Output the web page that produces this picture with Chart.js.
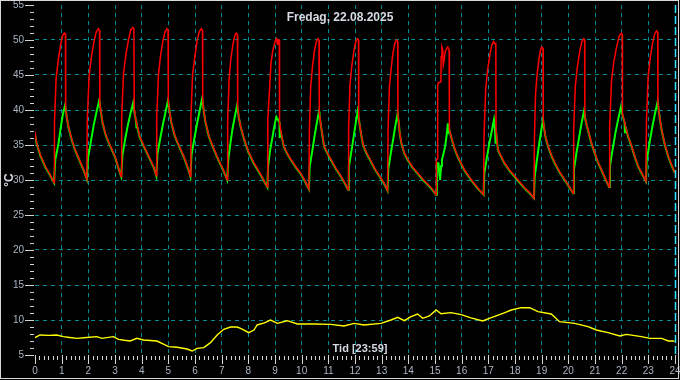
<!DOCTYPE html>
<html><head><meta charset="utf-8">
<script src="https://cdn.jsdelivr.net/npm/chart.js@4.4.1/dist/chart.umd.min.js"></script>
<style>html,body{margin:0;padding:0;background:#000;overflow:hidden}#wrap{width:680px;height:380px;position:relative}</style>
</head><body><div id="wrap"><canvas id="c"></canvas></div>
<script>
const chartTitle = 'Fredag, 22.08.2025';
const xTitle = 'Tid [23:59]';
const yTitle = '°C';
const hourTicks = [0,1,2,3,4,5,6,7,8,9,10,11,12,13,14,15,16,17,18,19,20,21,22,23,24];
const tempTicks = [5,10,15,20,25,30,35,40,45,50,55];

const greenSeries = [
[0,36.5],[0.06,35.2],[0.19,33.6],[0.38,31.9],[0.56,30.7],[0.714,29.6],
[0.76,32.9],[0.88,35.2],[0.97,37.6],[1.04,39.3],[1.13,40.7],[1.19,39.0],[1.25,37.6],[1.38,35.7],[1.50,34.3],[1.69,32.6],[1.82,31.4],[1.944,30.1],
[1.99,33.2],[2.10,35.6],[2.20,37.8],[2.30,39.6],[2.41,41.4],[2.47,39.7],[2.53,38.2],[2.66,36.3],[2.81,34.9],[3.01,33.2],[3.15,31.4],[3.233,30.5],
[3.28,33.6],[3.38,35.8],[3.48,37.8],[3.58,39.5],[3.68,41.0],[3.74,39.4],[3.79,38.4],[3.80,37.4],[3.81,38.0],[3.93,36.1],[4.08,34.8],[4.28,33.2],[4.45,31.8],[4.549,30.6],
[4.59,33.7],[4.70,36.0],[4.80,38.0],[4.90,39.8],[4.99,41.4],[5.05,39.7],[5.11,38.2],[5.24,36.3],[5.39,34.9],[5.59,33.2],[5.74,31.6],[5.827,30.5],
[5.87,33.6],[5.98,36.0],[6.08,38.1],[6.18,40.0],[6.27,41.7],[6.33,39.8],[6.39,38.3],[6.52,36.2],[6.67,34.7],[6.87,32.9],[7.07,31.3],[7.207,30.0],
[7.25,33.0],[7.33,35.3],[7.41,37.4],[7.50,39.2],[7.58,40.7],[7.64,39.0],[7.71,37.6],[7.84,35.8],[8.0,34.0],[8.2,32.4],[8.45,30.8],[8.711,29.0],
[8.74,32.0],[8.82,34.3],[8.90,36.0],[8.98,37.8],[9.05,39.0],[9.11,38.6],[9.17,38.2],[9.175,36.0],[9.19,37.2],[9.25,36.2],[9.33,34.8],[9.45,33.8],[9.59,32.9],[9.78,31.8],[9.96,30.9],[10.15,29.6],[10.27,28.7],
[10.30,31.9],[10.40,34.2],[10.48,36.2],[10.57,38.2],[10.65,39.8],[10.67,39.2],[10.71,38.1],[10.77,36.5],[10.84,34.8],[10.96,33.8],[11.09,32.9],[11.28,31.6],[11.47,30.5],[11.62,29.5],[11.74,28.6],
[11.77,31.9],[11.87,34.2],[11.95,36.2],[12.03,38.2],[12.10,39.8],[12.13,39.0],[12.17,38.0],[12.23,36.5],[12.30,35.0],[12.42,33.9],[12.56,32.9],[12.75,31.5],[12.94,30.4],[13.10,29.4],[13.22,28.5],
[13.25,31.6],[13.35,34.0],[13.44,36.0],[13.52,37.9],[13.60,39.5],[13.64,38.2],[13.68,36.6],[13.74,35.2],[13.85,33.8],[13.97,32.9],[14.15,31.8],[14.35,30.9],[14.55,30.0],[14.73,29.3],[14.90,28.6],[15.04,27.9],
[15.07,32.4],[15.13,32.4],[15.16,31.0],[15.19,30.0],[15.23,32.0],[15.26,32.9],[15.32,33.8],[15.38,34.8],[15.44,36.5],[15.48,38.1],[15.51,36.9],[15.54,37.1],[15.60,36.2],[15.72,34.6],[15.85,33.3],[16.1,31.4],[16.35,30.0],[16.6,28.8],[16.82,27.9],
[16.85,31.0],[16.95,33.3],[17.04,35.3],[17.13,37.0],[17.21,38.6],[17.25,37.2],[17.27,35.2],[17.29,36.8],[17.36,34.3],[17.48,33.3],[17.6,32.4],[17.8,31.3],[17.98,30.5],[18.2,29.5],[18.36,28.8],[18.55,28.1],[18.71,27.4],
[18.74,30.5],[18.82,32.8],[18.90,35.0],[18.98,37.0],[19.05,38.6],[19.09,37.4],[19.14,36.2],[19.24,34.8],[19.36,33.5],[19.49,32.4],[19.67,31.1],[19.86,30.0],[20.03,29.0],[20.18,28.1],
[20.21,31.5],[20.31,34.0],[20.41,36.2],[20.50,38.2],[20.59,39.9],[20.64,38.6],[20.69,37.8],[20.74,37.1],[20.86,35.3],[20.99,33.8],[21.11,32.5],[21.24,31.4],[21.38,30.2],[21.53,29.0],
[21.56,32.0],[21.67,34.6],[21.77,36.8],[21.87,38.7],[21.97,40.4],[22.03,39.3],[22.08,38.6],[22.11,38.2],[22.12,36.7],[22.14,37.6],[22.24,36.2],[22.37,34.8],[22.5,33.2],[22.62,31.9],[22.77,30.8],[22.91,29.8],
[22.94,32.8],[23.05,35.4],[23.15,37.6],[23.25,39.5],[23.35,41.2],[23.40,39.6],[23.45,38.3],[23.5,37.1],[23.62,35.0],[23.75,33.3],[23.88,32.0],[24.0,31.0]
];

const redSeries = [
[0,36.9],[0.06,35.3],[0.19,33.7],[0.38,32.0],[0.56,30.8],[0.714,29.6],
[0.73,38.2],[0.79,44.4],[0.87,47.1],[0.96,49.3],[1.03,50.6],[1.10,51.0],[1.14,50.9],[1.15,40.1],[1.19,39.1],[1.25,37.7],[1.38,35.8],[1.50,34.4],[1.69,32.7],[1.82,31.5],[1.944,30.1],
[1.96,38.7],[2.03,44.9],[2.12,47.7],[2.22,49.9],[2.30,51.2],[2.38,51.6],[2.42,51.4],[2.43,40.9],[2.47,39.8],[2.53,38.3],[2.66,36.4],[2.81,35.0],[3.01,33.3],[3.15,31.5],[3.233,30.5],
[3.25,39.0],[3.32,45.2],[3.41,48.0],[3.51,50.1],[3.59,51.4],[3.67,51.8],[3.71,51.6],[3.72,40.0],[3.74,39.5],[3.79,38.5],[3.93,36.2],[4.08,34.9],[4.28,33.3],[4.45,31.9],[4.549,30.6],
[4.565,39.0],[4.63,45.1],[4.71,47.8],[4.80,49.9],[4.88,51.2],[4.95,51.6],[4.99,51.4],[5.00,41.1],[5.05,39.8],[5.11,38.3],[5.24,36.4],[5.39,35.0],[5.59,33.3],[5.74,31.7],[5.827,30.5],
[5.845,38.9],[5.91,45.1],[6.0,47.8],[6.08,49.9],[6.16,51.2],[6.24,51.6],[6.28,51.4],[6.29,41.2],[6.33,39.9],[6.39,38.4],[6.52,36.3],[6.67,34.8],[6.87,33.0],[7.07,31.4],[7.207,30.0],
[7.225,38.4],[7.28,44.5],[7.34,47.2],[7.42,49.3],[7.49,50.6],[7.55,51.0],[7.59,50.8],[7.60,40.2],[7.64,39.1],[7.71,37.7],[7.84,35.9],[8.0,34.1],[8.2,32.5],[8.45,30.9],[8.711,29.0],
[8.73,38.7],[8.80,43.3],[8.85,46.7],[8.92,48.6],[9.02,50.0],[9.06,50.2],[9.09,49.4],[9.11,50.0],[9.16,50.0],[9.17,38.3],[9.25,36.3],[9.33,34.9],[9.45,33.9],[9.59,33.0],[9.78,31.9],[9.96,31.0],[10.15,29.7],[10.27,28.7],
[10.29,37.3],[10.34,43.5],[10.41,46.3],[10.48,48.5],[10.55,49.8],[10.61,50.2],[10.65,50.0],[10.66,39.6],[10.71,38.2],[10.77,36.6],[10.84,34.9],[10.96,33.9],[11.09,33.0],[11.28,31.7],[11.47,30.6],[11.62,29.6],[11.74,28.6],
[11.76,37.3],[11.81,43.5],[11.88,46.3],[11.96,48.5],[12.03,49.8],[12.09,50.2],[12.13,50.0],[12.14,38.8],[12.17,38.1],[12.23,36.6],[12.30,35.1],[12.42,34.0],[12.56,33.0],[12.75,31.6],[12.94,30.5],[13.10,29.5],[13.22,28.5],
[13.24,37.1],[13.29,43.3],[13.36,46.1],[13.43,48.3],[13.50,49.6],[13.56,50.0],[13.60,49.8],[13.61,39.2],[13.64,38.3],[13.68,36.7],[13.74,35.3],[13.85,33.9],[13.97,33.0],[14.15,31.9],[14.35,31.0],[14.55,30.1],[14.73,29.4],[14.90,28.7],[15.04,27.9],
[15.05,32.9],[15.09,33.0],[15.10,43.6],[15.13,43.9],[15.22,44.0],[15.23,47.6],[15.26,49.0],[15.29,48.6],[15.31,46.4],[15.34,47.0],[15.38,48.3],[15.44,48.8],[15.48,49.0],[15.53,48.6],[15.54,37.2],[15.60,36.3],[15.72,34.7],[15.85,33.4],[16.1,31.5],[16.35,30.1],[16.6,28.9],[16.82,27.9],
[16.84,36.6],[16.90,42.9],[16.97,45.7],[17.06,47.9],[17.13,49.3],[17.2,49.8],[17.25,49.4],[17.28,49.6],[17.29,36.9],[17.36,34.4],[17.48,33.4],[17.6,32.5],[17.8,31.4],[17.98,30.6],[18.2,29.6],[18.36,28.9],[18.55,28.2],[18.71,27.4],
[18.73,36.1],[18.77,42.3],[18.83,45.1],[18.90,47.3],[18.96,48.6],[19.01,49.0],[19.05,48.8],[19.06,38.3],[19.09,37.5],[19.14,36.3],[19.24,34.9],[19.36,33.6],[19.49,32.5],[19.67,31.2],[19.86,30.1],[20.03,29.1],[20.18,28.1],
[20.20,37.0],[20.26,43.3],[20.34,46.2],[20.43,48.4],[20.51,49.8],[20.58,50.2],[20.61,50.0],[20.62,39.1],[20.64,38.7],[20.69,37.9],[20.74,37.2],[20.86,35.4],[20.99,33.9],[21.11,32.6],[21.24,31.5],[21.38,30.3],[21.53,29.0],
[21.55,37.8],[21.62,44.2],[21.71,47.0],[21.82,49.2],[21.91,50.6],[21.99,51.0],[22.02,50.8],[22.03,39.4],[22.08,38.7],[22.11,38.3],[22.14,37.7],[22.24,36.3],[22.37,34.9],[22.5,33.3],[22.62,32.0],[22.77,30.9],[22.91,29.8],
[22.93,38.4],[22.99,44.6],[23.07,47.4],[23.16,49.6],[23.24,50.9],[23.31,51.3],[23.35,51.1],[23.36,40.9],[23.40,39.7],[23.45,38.4],[23.5,37.2],[23.62,35.1],[23.75,33.4],[23.88,32.1],[24.0,31.0]
];

const yellowSeries = [
[0,7.5],[0.19,7.86],[0.5,7.8],[0.82,7.86],[1.06,7.62],[1.3,7.5],[1.57,7.38],[1.94,7.5],[2.32,7.62],[2.51,7.38],[2.94,7.62],[3.13,7.24],[3.35,7.1],[3.57,7.0],[3.82,7.38],[4.07,7.14],[4.57,7.0],[4.8,6.6],[5.01,6.19],[5.33,6.1],[5.70,5.86],[5.89,5.57],[6.08,5.95],[6.33,6.05],[6.58,6.76],[6.83,7.86],[7.08,8.67],[7.33,9.0],[7.57,9.0],[7.71,8.81],[8.02,8.19],[8.21,8.57],[8.33,9.29],[8.6,9.6],[8.83,10.0],[9.09,9.52],[9.46,9.9],[9.84,9.43],[10.46,9.43],[11.09,9.38],[11.59,9.14],[11.97,9.52],[12.34,9.29],[12.97,9.52],[13.35,10.0],[13.6,10.38],[13.85,9.9],[14.1,10.48],[14.35,10.86],[14.54,10.24],[14.79,10.57],[15.04,11.43],[15.23,10.9],[15.6,11.05],[15.98,10.76],[16.35,10.3],[16.79,9.86],[17.11,10.33],[17.55,10.95],[17.86,11.43],[18.23,11.76],[18.55,11.76],[18.86,11.19],[19.36,10.86],[19.67,9.76],[20.24,9.52],[20.74,9.05],[21.05,8.57],[21.49,8.19],[21.93,7.71],[22.18,7.95],[22.74,7.62],[23.06,7.38],[23.5,7.38],[23.75,7.0],[23.98,7.0]
];

const toXY = arr => arr.map(p => ({x: p[0], y: p[1]}));
const FONT = '"Liberation Sans", Arial, sans-serif';

const decor = {
  id: 'decor',
  beforeDraw(chart) {
    const c = chart.ctx;
    c.save(); c.fillStyle = '#000'; c.fillRect(0, 0, chart.width, chart.height); c.restore();
  },
  afterDraw(chart) {
    const c = chart.ctx, xs = chart.scales.x, ys = chart.scales.y, a = chart.chartArea;
    c.save();
    const xn = Math.round(xs.getPixelForValue(hourTicks[hourTicks.length - 1])) + 0.5;
    c.strokeStyle = '#30e4ff'; c.lineWidth = 1.5; c.setLineDash([8, 3]);
    c.beginPath(); c.moveTo(xn, a.top); c.lineTo(xn, a.bottom); c.stroke();
    c.setLineDash([]);
    c.strokeStyle = '#d4d4d4'; c.lineWidth = 1;
    const yMin = tempTicks[0], yMax = tempTicks[tempTicks.length - 1];
    for (let v = yMin; v <= yMax; v++) {
      const y = Math.round(ys.getPixelForValue(v)) + 0.5;
      const major = tempTicks.includes(v);
      c.beginPath(); c.moveTo(a.left - (major ? 10 : 5), y); c.lineTo(a.left - 1, y); c.stroke();
    }
    c.fillStyle = '#a9b4c2'; c.font = '10px ' + FONT;
    c.textAlign = 'right'; c.textBaseline = 'middle';
    tempTicks.forEach(v => c.fillText(String(v), a.left - 11, ys.getPixelForValue(v)));
    for (let m = 0; m <= 24 * 60; m += 10) {
      const x = Math.round(xs.getPixelForValue(m / 60)) + 0.5;
      const major = m % 60 === 0;
      c.beginPath(); c.moveTo(x, a.bottom + (major ? 0 : 1)); c.lineTo(x, a.bottom + (major ? 9 : 5)); c.stroke();
    }
    c.textAlign = 'center'; c.textBaseline = 'middle';
    hourTicks.forEach(h => c.fillText(String(h), xs.getPixelForValue(h), a.bottom + 16));
    c.fillStyle = '#d6dae2';
    c.font = 'bold 12px ' + FONT;
    c.fillText(chartTitle, 340, 18);
    c.font = 'bold 11px ' + FONT;
    c.fillText(xTitle, 360, a.bottom - 6);
    c.save(); c.translate(10, ys.getPixelForValue(30)); c.rotate(-Math.PI / 2);
    c.font = 'bold 12px ' + FONT; c.fillText(yTitle, 0, 0); c.restore();
    c.strokeStyle = '#d8d8d8'; c.lineWidth = 1;
    c.strokeRect(0.5, 0.5, chart.width - 2, chart.height - 2);
    c.restore();
  }
};

const GRID = '#008c94';
const gridColorX = ctx => (ctx.tick && ctx.tick.value > hourTicks[0] && ctx.tick.value < hourTicks[hourTicks.length - 1]) ? GRID : 'rgba(0,0,0,0)';
const gridColorY = ctx => (ctx.tick && ctx.tick.value > tempTicks[0] && ctx.tick.value < tempTicks[tempTicks.length - 1]) ? GRID : 'rgba(0,0,0,0)';

new Chart(document.getElementById('c'), {
  type: 'line',
  data: {
    datasets: [
      { label: 'red', data: toXY(redSeries), borderColor: '#ff0000', borderWidth: 1.5, pointRadius: 0, tension: 0 },
      { label: 'green', data: toXY(greenSeries), borderColor: '#00ff00', borderWidth: 2, pointRadius: 0, tension: 0 },
      { label: 'yellow', data: toXY(yellowSeries), borderColor: '#ffff00', borderWidth: 1.4, pointRadius: 0, tension: 0 }
    ]
  },
  options: {
    responsive: true, maintainAspectRatio: false, animation: false, devicePixelRatio: 1,
    layout: { padding: { left: 35, right: 5, top: 5, bottom: 25 } },
    plugins: { legend: { display: false }, tooltip: { enabled: false }, title: { display: false } },
    scales: {
      x: {
        type: 'linear', min: 0, max: 24,
        ticks: { display: false, stepSize: 1 },
        grid: { color: gridColorX, lineWidth: 1, drawTicks: false },
        border: { display: false, dash: [4, 4] },
        afterFit: s => { s.height = 0; }
      },
      y: {
        type: 'linear', min: 5, max: 55,
        ticks: { display: false, stepSize: 5 },
        grid: { color: gridColorY, lineWidth: 1, drawTicks: false },
        border: { display: false, dash: [4, 4] },
        afterFit: s => { s.width = 0; }
      }
    }
  },
  plugins: [decor]
});
</script>
</body></html>
